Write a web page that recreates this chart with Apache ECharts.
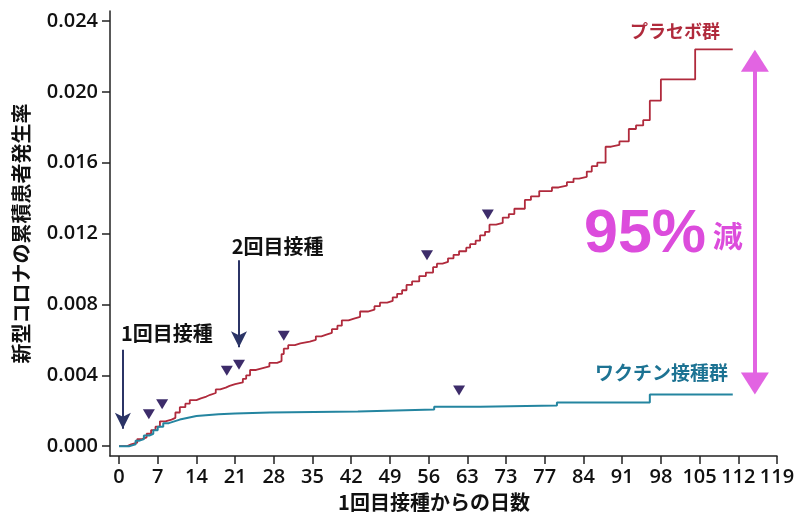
<!DOCTYPE html>
<html><head><meta charset="utf-8">
<script src="https://cdn.jsdelivr.net/npm/echarts@6/dist/echarts.min.js"></script>
<style>html,body{margin:0;padding:0;background:#fff}#c{width:800px;height:517px}</style>
</head><body><div id="c"></div>
<script>
// ---- data ----
const xTickValues = [0,7,14,21,28,35,42,49,56,63,70,77,84,91,98,105,112,119];
const xTickLabels = ['0','7','14','21','28','35','42','49','56','63','73','77','84','91','98','105','112','119'];
const yTickValues = [0,0.004,0.008,0.012,0.016,0.020,0.024];
const yTickLabels = ['0.000','0.004','0.008','0.012','0.016','0.020','0.024'];

// placebo cumulative incidence: [day, value]
const placebo = [[0,0],[1.5,0.0001],[2.2,0.0002],[3.3,0.0004],[4.2,0.0005],[5.0,0.0007],[5.8,0.0009],[6.6,0.0011],[7.4,0.0014],[8.4,0.0015],[9.5,0.0016],[10.2,0.0019],[11.0,0.0022],[12.0,0.0024],[12.8,0.0026],[14.0,0.0027],[14.8,0.0028],[15.8,0.0029],[16.5,0.0030],[17.5,0.0032],[18.3,0.0033],[19.3,0.0034],[20.0,0.0035],[21.0,0.0036],[22.4,0.0038],[23.0,0.0040],[23.7,0.0043],[24.8,0.0044],[26.0,0.0045],[27.2,0.0047],[28.6,0.0048],[29.4,0.0052],[29.8,0.0055],[30.6,0.0057],[31.8,0.0058],[32.8,0.0059],[34.5,0.0060],[35.6,0.0062],[36.6,0.0063],[37.5,0.0064],[38.5,0.0066],[39.5,0.0068],[40.3,0.0071],[41.5,0.0072],[42.5,0.0073],[43.6,0.0076],[45.0,0.0077],[46.2,0.0079],[47.2,0.0081],[48.5,0.0082],[49.5,0.0084],[50.3,0.0086],[51.2,0.0088],[52.0,0.0091],[53.0,0.0093],[54.3,0.0096],[55.5,0.0098],[56.8,0.0101],[57.5,0.0103],[58.5,0.0104],[59.5,0.0106],[60.5,0.0108],[61.5,0.0110],[62.8,0.0112],[63.5,0.0114],[64.5,0.0116],[65.3,0.0119],[66.2,0.0121],[67.0,0.0125],[68.2,0.0126],[69.4,0.0129],[70.5,0.0131],[71.5,0.0134],[73.4,0.0139],[74.5,0.0141],[76.0,0.0144],[78.3,0.0146],[79.5,0.0147],[81.0,0.0149],[82.2,0.0151],[83.2,0.0152],[84.6,0.0155],[85.5,0.0158],[86.5,0.0160],[88.0,0.0169],[89.0,0.0170],[90.5,0.0172],[92.2,0.0179],[93.5,0.0181],[94.8,0.0184],[96.0,0.0195],[98.0,0.0207],[104.2,0.0224],[111,0.0224]];

// vaccine cumulative incidence: [day, value]
const vaccine = [[0,0],[1.8,0.0001],[3.0,0.0003],[3.6,0.0004],[4.5,0.0006],[5.5,0.0007],[6.2,0.0009],[7.0,0.0011],[8.0,0.0013],[9.0,0.0014],[10.0,0.0015],[11.0,0.0016],[12.5,0.0017],[14.0,0.0018],[18.0,0.00185],[21.0,0.0019],[27.3,0.00196],[43.2,0.00207],[57.0,0.00222],[65.3,0.0023],[79.2,0.00247],[96.0,0.00292],[111,0.00292]];

// triangle event markers: [day, value]
const eventMarks = [[5.4,0.0018],[7.8,0.00236],[19.5,0.00426],[21.7,0.0046],[29.8,0.00623],[55.7,0.01077],[61.5,0.00314],[66.7,0.01307]];

// dose arrows: day, start value, tip value
const doseArrowDays = [0.7, 21.7];
const doseArrowFrom = [0.00544, 0.01049];
const doseArrowTip = [0.00098, 0.00558];

// reduction arrow
const reductionDay = 115;
const reductionTop = 0.02176;
const reductionBottom = 0.00353;

// texts
const texts = {
  dose1: '1回目接種', dose2: '2回目接種', placebo: 'プラセボ群', vaccine: 'ワクチン接種群',
  pct: '95%', red: '減', xTitle: '1回目接種からの日数', yTitle: '新型コロナの累積患者発生率'
};

// ---- chart ----
const RED = '#b02a3c', TEAL = '#2485a0', NAVY = '#2b3466', PURPLE = '#3d2c6a', MAG = '#e264e2', MAGTXT = '#dc4cdc';
const CJK = '"Noto Sans CJK JP", "Noto Sans", sans-serif';
const NUM = '"Open Sans", "Noto Sans", sans-serif';

const chart = echarts.init(document.getElementById('c'), null, {renderer: 'canvas'});

function textItem(coord, text, style) {
  return {value: coord, label: Object.assign({show: true, formatter: text, position: [0,0], align: 'left', verticalAlign: 'middle', fontFamily: CJK, fontWeight: 'bold', opacity: 1}, style)};
}

chart.setOption({
  animation: false,
  backgroundColor: '#fff',
  grid: {left: 110, right: 23, top: 11, bottom: 58, containLabel: false},
  xAxis: {
    type: 'value', min: -1.628, max: 119,
    axisLine: {show: true, onZero: false, lineStyle: {color: '#222', width: 1.5}},
    axisTick: {show: true, length: 8, customValues: xTickValues, lineStyle: {color: '#222', width: 1.5}},
    axisLabel: {show: true, customValues: xTickValues, margin: 11, fontFamily: NUM, fontWeight: 600, fontSize: 20, color: '#111',
      formatter: v => xTickLabels[xTickValues.indexOf(v)]},
    splitLine: {show: false},
    name: texts.xTitle, nameLocation: 'middle', nameGap: 33,
    nameTextStyle: {fontFamily: CJK, fontWeight: 'bold', fontSize: 20, color: '#111', padding: [0, 19, 0, 0]}
  },
  yAxis: {
    type: 'value', min: -0.000561, max: 0.024561,
    axisLine: {show: true, onZero: false, lineStyle: {color: '#222', width: 1.5}},
    axisTick: {show: true, length: 8, customValues: yTickValues, lineStyle: {color: '#222', width: 1.5}},
    axisLabel: {show: true, customValues: yTickValues, margin: 12, fontFamily: NUM, fontWeight: 600, fontSize: 20, color: '#111',
      formatter: v => yTickLabels[yTickValues.findIndex(t => Math.abs(t - v) < 1e-9)]},
    splitLine: {show: false},
    name: texts.yTitle, nameLocation: 'middle', nameGap: 79, nameRotate: 90,
    nameTextStyle: {fontFamily: CJK, fontWeight: 'bold', fontSize: 20, color: '#111'}
  },
  series: [
    {type: 'line', name: 'placebo', data: placebo, step: 'end', showSymbol: false, symbol: 'none',
     lineStyle: {color: RED, width: 1.8}, z: 3, silent: true},
    {type: 'line', name: 'vaccine', data: vaccine, step: 'end', showSymbol: false, symbol: 'none',
     lineStyle: {color: TEAL, width: 2}, z: 4, silent: true},
    {type: 'scatter', name: 'events', data: eventMarks, symbol: 'triangle', symbolRotate: 180, symbolSize: [12, 10],
     itemStyle: {color: PURPLE, opacity: 1}, z: 5, silent: true},
    // dose arrows: shafts
    {type: 'scatter', name: 'doseShafts', data: [], silent: true,
     markLine: {silent: true, symbol: ['none','none'], label: {show: false}, lineStyle: {color: NAVY, width: 2, type: 'solid', opacity: 1},
       data: doseArrowDays.map((d, i) => [{coord: [d, doseArrowFrom[i]]}, {coord: [d, doseArrowTip[i]]}])}},
    // dose arrow heads
    {type: 'scatter', name: 'doseHeads', data: doseArrowDays.map((d, i) => [d, doseArrowTip[i]]),
     symbol: 'arrow', symbolRotate: 180, symbolSize: [12, 16], itemStyle: {color: NAVY, opacity: 1}, z: 6, silent: true},
    // reduction arrow
    {type: 'scatter', name: 'reduction', data: [[reductionDay, reductionTop], [reductionDay, reductionBottom]],
     symbol: 'triangle', symbolSize: [28, 22], symbolRotate: (v, p) => p.dataIndex === 0 ? 0 : 180,
     itemStyle: {color: MAG, opacity: 1}, z: 6, silent: true,
     markLine: {silent: true, symbol: ['none','none'], label: {show: false}, lineStyle: {color: MAG, width: 4, type: 'solid', opacity: 1},
       data: [[{coord: [reductionDay, reductionTop]}, {coord: [reductionDay, reductionBottom]}]]}},
    // text annotations
    {type: 'scatter', name: 'texts', symbolSize: 0, z: 7, silent: true, itemStyle: {opacity: 1},
     data: [
       textItem([0.36, 0.00639], texts.dose1, {fontSize: 20, color: '#111'}),
       textItem([20.4, 0.01127], texts.dose2, {fontSize: 20, color: '#111'}),
       textItem([92.4, 0.02344], texts.placebo, {fontSize: 18, color: RED}),
       textItem([86.1, 0.00415], texts.vaccine, {fontSize: 19, color: '#1d7393'}),
       textItem([84.1, 0.01189], texts.pct, {fontSize: 61, fontFamily: '"Liberation Sans", Arial, sans-serif', fontWeight: 'bold', color: MAGTXT}),
       textItem([107.4, 0.01189], texts.red, {fontSize: 30, color: MAGTXT})
     ]}
  ]
});
</script></body></html>
